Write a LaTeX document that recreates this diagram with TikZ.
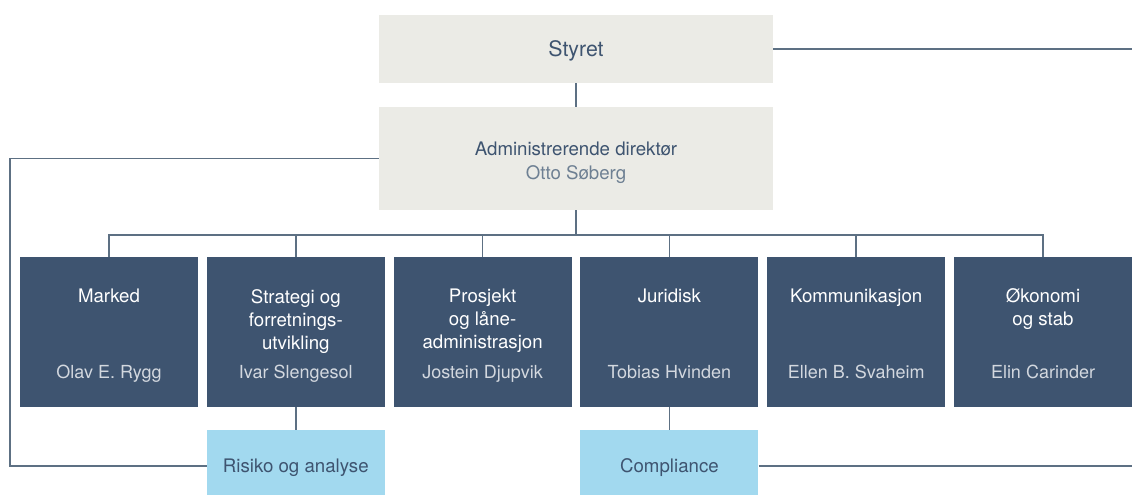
\documentclass[tikz,border=0pt]{standalone}
\usepackage{fontspec}
\setmainfont{TeX Gyre Heros}
\definecolor{boardgrey}{HTML}{EBEBE6}
\definecolor{deptblue}{HTML}{3E5470}
\definecolor{unitblue}{HTML}{A2D9EF}
\definecolor{wiregrey}{HTML}{5D7083}
\definecolor{namegrey}{HTML}{D3D8DF}
\definecolor{ceogrey}{HTML}{6E8093}

\begin{document}
\begin{tikzpicture}[x=0.75pt,y=-0.75pt]
      \tikzstyle{every node}=[inner sep=0pt,font=\fontsize{14}{17.25}\selectfont]
      \tikzstyle{topbox}=[fill=boardgrey,text=deptblue,minimum width=295.5pt,align=center]
      \tikzstyle{deptbox}=[fill=deptblue,minimum width=133.5pt,minimum height=112.5pt]
      \tikzstyle{unitbox}=[fill=unitblue,text=deptblue,minimum width=133.5pt,minimum height=54pt,text depth=0pt]
      \tikzstyle{depttext}=[anchor=north,text=white,align=center]
      \tikzstyle{persontext}=[anchor=base,text=namegrey,font=\fontsize{13.5}{17}\selectfont]
      \tikzstyle{wire}=[draw=wiregrey,line width=1.1pt]

      \clip (0,0) rectangle (1132,494);

      \node[topbox,minimum height=51pt] (board) at (576,49) {};
      \node[text=deptblue,font=\fontsize{16}{19}\selectfont] (boardlabel) at (576,51) {Styret};
      \node[topbox,minimum height=77.25pt] (ceo) at (576,158.5) {};
      \node[text=deptblue,align=center] (ceolabel) at (576,163) {Administrerende direktør\\[0.75pt]{\color{ceogrey}Otto Søberg}};

      \node[deptbox] (d1) at (109,332)   {};
      \node[deptbox] (d2) at (295.8,332) {};
      \node[deptbox] (d3) at (482.6,332) {};
      \node[deptbox] (d4) at (669.4,332) {};
      \node[deptbox] (d5) at (856.2,332) {};
      \node[deptbox] (d6) at (1043,332)  {};

      \node[depttext] (t1) at (109,289)   {Marked};
      \node[depttext] (t2) at (295.8,289) {Strategi og\\forretnings-\\utvikling};
      \node[depttext] (t3) at (482.6,289) {Prosjekt\\og låne-\\administrasjon};
      \node[depttext] (t4) at (669.4,289) {Juridisk};
      \node[depttext] (t5) at (856.2,289) {Kommunikasjon};
      \node[depttext] (t6) at (1043,288)  {Økonomi\\og stab};

      \node[persontext] (p1) at (109,378)   {Olav E. Rygg};
      \node[persontext] (p2) at (295.8,378) {Ivar Slengesol};
      \node[persontext] (p3) at (482.6,378) {Jostein Djupvik};
      \node[persontext] (p4) at (669.4,378) {Tobias Hvinden};
      \node[persontext] (p5) at (856.2,378) {Ellen B. Svaheim};
      \node[persontext] (p6) at (1043,378)  {Elin Carinder};

      \node[unitbox] (u1) at (295.8,466) {Risiko og analyse};
      \node[unitbox] (u2) at (669.4,466) {Compliance};

      \coordinate (bus) at (576,235);
      \coordinate (r1)  at (1132,49);
      \coordinate (r2)  at (1132,466);
      \coordinate (l1)  at (10,466);

      \draw[wire] (board.east) -- (r1);
      \draw[wire] (board.south) -- (ceo.north);
      \draw[wire] (ceo.south) -- (bus);
      \draw[wire] (d1.north) |- (bus) -| (d6.north);
      \draw[wire] (d2.north) -- (d2.north |- bus);
      \draw[wire] (d3.north) -- (d3.north |- bus);
      \draw[wire] (d4.north) -- (d4.north |- bus);
      \draw[wire] (d5.north) -- (d5.north |- bus);
      \draw[wire] (ceo.west) -| (l1) -- (u1.west);
      \draw[wire] (d2.south) -- (u1.north);
      \draw[wire] (d4.south) -- (u2.north);
      \draw[wire] (u2.east) -- (r2);
\end{tikzpicture}
\end{document}
